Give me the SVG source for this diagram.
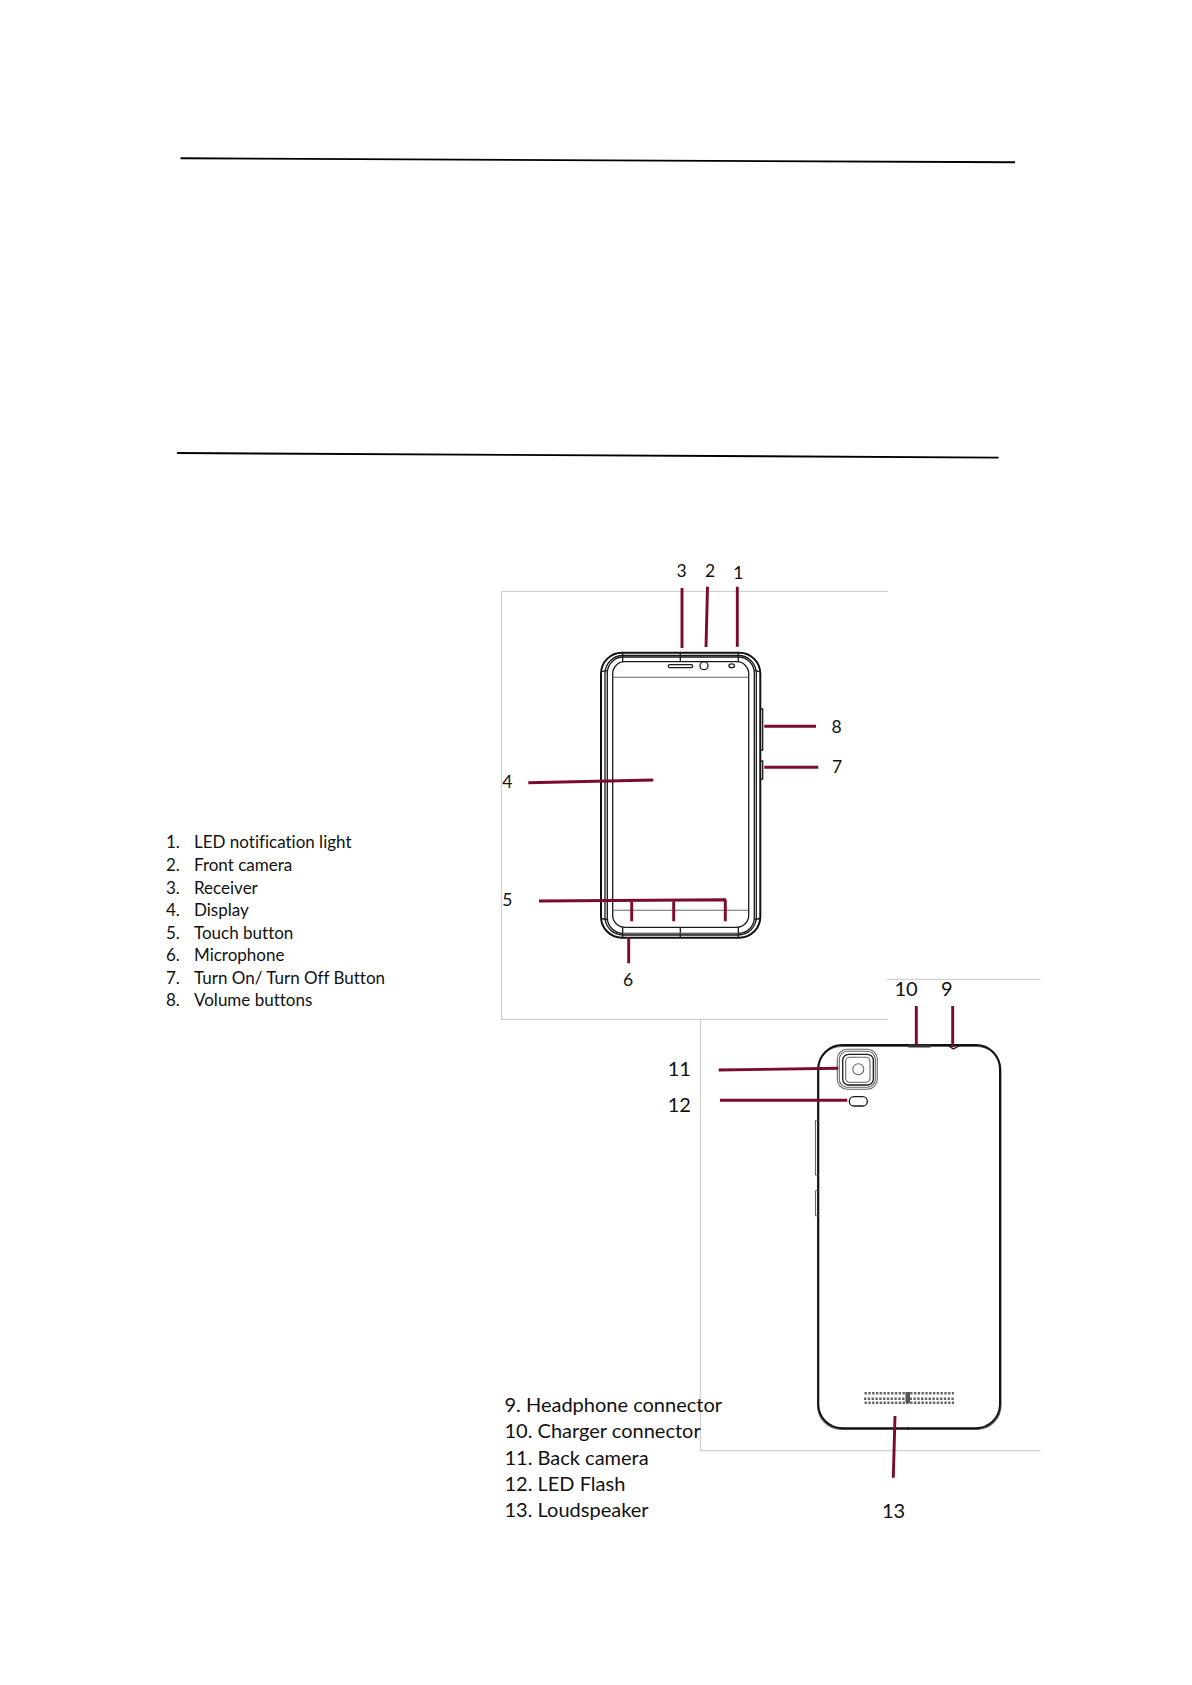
<svg xmlns="http://www.w3.org/2000/svg" width="1192" height="1685" viewBox="0 0 1192 1685">
<style>
text{font-family:"Lato","Open Sans","Liberation Sans",sans-serif;fill:#111;font-variant-ligatures:none}
.n{font-size:17.5px;text-anchor:middle}
.l{font-size:17px}
.b{font-size:20px}
.rule{stroke:#000;stroke-width:1.9;fill:none}
.pan{stroke:#d2d2d2;stroke-width:1.3;fill:none}
.d{fill:none;stroke:#1a1a1a;stroke-width:1.3}
.d2{fill:none;stroke:#111;stroke-width:2}
.g{fill:none;stroke:#666;stroke-width:1.1}
.r{stroke:#7a0b2c;stroke-width:2.9;fill:none}
.s{fill:none;stroke:#666;stroke-width:2.6;stroke-dasharray:2.4 1.4}
</style>
<rect width="1192" height="1685" fill="#fff"/>
<g id="rules">
<line class="rule" x1="180.5" y1="158.3" x2="1015" y2="162.3"/>
<line class="rule" x1="177" y1="453" x2="998.5" y2="457.6"/>
</g>
<g id="panels">
<path class="pan" d="M888 591.3H501.5V1019.3H888"/>
<path class="pan" d="M700.5 1019.3V1450.7H1040.5M887 979.3H1040.5"/>
</g>
<g id="phone-front">
<rect class="d2" x="601" y="652.7" width="159.3" height="285" rx="21"/>
<rect class="d" x="605" y="655.5" width="151.3" height="279.5" rx="18"/>
<rect class="d" x="607.3" y="657" width="147" height="276.5" rx="16"/>
<rect class="d" x="612.7" y="661.7" width="136" height="265.6" rx="12"/>
<path class="g" d="M612.7 677.3H748.7M612.7 910.3H748.7"/>
<path class="d" d="M622.7 652.7V661.7M680.3 652.7V661.7M738.3 652.7V661.7M622.7 927.3V937.7M680.3 927.3V937.7M738.3 927.3V937.7"/>
<path class="d" d="M601 671.7L607 670.7M760.3 671.7L754.3 670.7M601 918.5L607 919.5M760.3 918.5L754.3 919.5"/>
<path class="g" d="M622.7 933.5H738.3" stroke-width="2.5"/>
<rect class="d" x="668.3" y="664.7" width="24.4" height="3" rx="1.5"/>
<circle class="d" cx="704" cy="665.7" r="4" stroke-width="1.6"/>
<ellipse class="d" cx="731.7" cy="665.7" rx="2.8" ry="1.9"/>
<path class="d" d="M760.3 709H762.7V750H760.3M760.3 761H762.7V779H760.3"/>
</g>
<g id="phone-back">
<rect class="g" x="817.5" y="1046.5" width="183.5" height="383" rx="24" stroke="#999" stroke-width="1.6"/>
<rect class="d2" x="818.3" y="1045" width="181.7" height="383.3" rx="24" stroke-width="2.2"/>
<path d="M908.3 1046H930.7" stroke="#333" stroke-width="3" fill="none"/>
<path class="d" d="M948 1045.5L953.3 1049L960 1045.5"/>
<rect class="g" x="837.3" y="1049.3" width="40" height="40" rx="10"/>
<rect class="g" x="839.3" y="1051.3" width="36" height="36" rx="8" stroke="#bbb"/>
<rect class="d" x="842.7" y="1054.3" width="30.6" height="30.7" rx="6" stroke-width="1.7"/>
<rect class="g" x="845.7" y="1057.3" width="24.3" height="25" rx="4"/>
<circle class="g" cx="858.3" cy="1069.3" r="5.5"/>
<rect class="d" x="849.3" y="1096.7" width="18" height="9.3" rx="4.6" stroke-width="1.6"/>
<path class="g" d="M818 1120.7H815.5V1175H818M818 1190.7H815.5V1215.7H818"/>
<line class="s" x1="864.5" y1="1393.3" x2="954" y2="1393.3"/>
<line class="s" x1="864" y1="1398.7" x2="955" y2="1398.7"/>
<line class="s" x1="864.5" y1="1402.8" x2="954" y2="1402.8"/>
<rect x="905.5" y="1392" width="4.5" height="11" fill="#555"/>
<path class="d" d="M908 1427V1430"/>
</g>
<g id="connectors">
<path class="r" d="M682 588V648M707.5 586.7L706 647M737.3 586.7V646.7"/>
<path class="r" d="M764.3 726.3H816M764.3 767.3H818.3M528.3 782.7L653.3 780"/>
<path class="r" d="M539 901L726 899.7M631.7 900V921.3M673.7 900V921.3M725.3 899.7V921.3M628.7 937.3V963.3"/>
<path class="r" d="M916.3 1006V1046M952.7 1006V1047.3M718.7 1070L838.3 1068.3M720 1100.3H847.3M895 1416L893.3 1477.7"/>
</g>
<g id="labels">
<text class="n" x="681.7" y="576.7">3</text>
<text class="n" x="710" y="576.7">2</text>
<text class="n" x="738.3" y="579">1</text>
<text class="n" x="836.7" y="732.7">8</text>
<text class="n" x="837" y="772.5">7</text>
<text class="n" x="507.3" y="788">4</text>
<text class="n" x="507.3" y="906">5</text>
<text class="n" x="628" y="986">6</text>
<text class="b" text-anchor="middle" x="906" y="996">10</text>
<text class="b" text-anchor="middle" x="946.7" y="996">9</text>
<text class="b" text-anchor="middle" x="679.3" y="1076">11</text>
<text class="b" text-anchor="middle" x="679.3" y="1111.7">12</text>
<text class="b" text-anchor="middle" x="893.6" y="1517.7">13</text>
</g>
<g id="list-front">
<text class="l" x="166" y="848.3">1.</text><text class="l" x="194" y="848.3">LED notification light</text>
<text class="l" x="166" y="871">2.</text><text class="l" x="194" y="871">Front camera</text>
<text class="l" x="166" y="893.6">3.</text><text class="l" x="194" y="893.6">Receiver</text>
<text class="l" x="166" y="916.2">4.</text><text class="l" x="194" y="916.2">Display</text>
<text class="l" x="166" y="938.8">5.</text><text class="l" x="194" y="938.8">Touch button</text>
<text class="l" x="166" y="961.2">6.</text><text class="l" x="194" y="961.2">Microphone</text>
<text class="l" x="166" y="983.5">7.</text><text class="l" x="194" y="983.5">Turn On/ Turn Off Button</text>
<text class="l" x="166" y="1005.7">8.</text><text class="l" x="194" y="1005.7">Volume buttons</text>
</g>
<g id="list-back">
<text class="b" x="504.5" y="1412.3">9. Headphone connector</text>
<text class="b" x="504.5" y="1438.3">10. Charger connector</text>
<text class="b" x="504.5" y="1465">11. Back camera</text>
<text class="b" x="504.5" y="1490.7">12. LED Flash</text>
<text class="b" x="504.5" y="1516.7">13. Loudspeaker</text>
</g>
</svg>
